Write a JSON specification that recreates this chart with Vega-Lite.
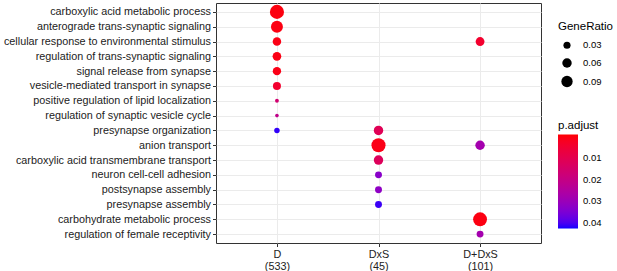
{
  "$schema": "https://vega.github.io/schema/vega-lite/v6.json",
  "width": 325,
  "height": 240,
  "autosize": {"type": "none"},
  "padding": {"left": 216, "top": 3, "right": 76, "bottom": 28},
  "background": "white",
  "config": {
    "font": "Liberation Sans",
    "view": {"stroke": "#333333", "strokeWidth": 1},
    "axis": {
      "gridColor": "#EBEBEB",
      "gridWidth": 1,
      "domain": false,
      "tickColor": "#333333",
      "tickSize": 3.5,
      "labelColor": "#222222",
      "labelFontSize": 10.8,
      "labelPadding": 2
    },
    "legend": {
      "titleFontWeight": "normal",
      "titleColor": "#000000",
      "titleFontSize": 11.5,
      "labelColor": "#000000",
      "labelFontSize": 9.5
    }
  },
  "data": {
    "values": [
      {"group": "D (533)", "term": "carboxylic acid metabolic process", "GeneRatio": 0.145, "padj": 0.0001},
      {"group": "D (533)", "term": "anterograde trans-synaptic signaling", "GeneRatio": 0.102, "padj": 0.0003},
      {"group": "D (533)", "term": "cellular response to environmental stimulus", "GeneRatio": 0.047, "padj": 0.0006},
      {"group": "D (533)", "term": "regulation of trans-synaptic signaling", "GeneRatio": 0.049, "padj": 0.0005},
      {"group": "D (533)", "term": "signal release from synapse", "GeneRatio": 0.045, "padj": 0.0007},
      {"group": "D (533)", "term": "vesicle-mediated transport in synapse", "GeneRatio": 0.041, "padj": 0.004},
      {"group": "D (533)", "term": "positive regulation of lipid localization", "GeneRatio": 0.002, "padj": 0.016},
      {"group": "D (533)", "term": "regulation of synaptic vesicle cycle", "GeneRatio": 0.001, "padj": 0.021},
      {"group": "D (533)", "term": "presynapse organization", "GeneRatio": 0.014, "padj": 0.0415},
      {"group": "DxS (45)", "term": "presynapse organization", "GeneRatio": 0.06, "padj": 0.011},
      {"group": "DxS (45)", "term": "anion transport", "GeneRatio": 0.145, "padj": 0.0008},
      {"group": "DxS (45)", "term": "carboxylic acid transmembrane transport", "GeneRatio": 0.06, "padj": 0.012},
      {"group": "DxS (45)", "term": "neuron cell-cell adhesion", "GeneRatio": 0.028, "padj": 0.033},
      {"group": "DxS (45)", "term": "postsynapse assembly", "GeneRatio": 0.028, "padj": 0.032},
      {"group": "DxS (45)", "term": "presynapse assembly", "GeneRatio": 0.028, "padj": 0.041},
      {"group": "D+DxS (101)", "term": "cellular response to environmental stimulus", "GeneRatio": 0.051, "padj": 0.004},
      {"group": "D+DxS (101)", "term": "anion transport", "GeneRatio": 0.06, "padj": 0.028},
      {"group": "D+DxS (101)", "term": "carbohydrate metabolic process", "GeneRatio": 0.14, "padj": 0.0003},
      {"group": "D+DxS (101)", "term": "regulation of female receptivity", "GeneRatio": 0.028, "padj": 0.028}
    ]
  },
  "mark": {"type": "circle", "opacity": 1},
  "encoding": {
    "x": {
      "field": "group",
      "type": "nominal",
      "scale": {"type": "point", "padding": 0.6, "domain": ["D (533)", "DxS (45)", "D+DxS (101)"]},
      "axis": {"title": null, "labelAngle": 0, "labelExpr": "split(datum.label, ' ')", "labelLineHeight": 11.5, "grid": true}
    },
    "y": {
      "field": "term",
      "type": "nominal",
      "scale": {
        "type": "point",
        "padding": 0.6,
        "domain": [
          "carboxylic acid metabolic process",
          "anterograde trans-synaptic signaling",
          "cellular response to environmental stimulus",
          "regulation of trans-synaptic signaling",
          "signal release from synapse",
          "vesicle-mediated transport in synapse",
          "positive regulation of lipid localization",
          "regulation of synaptic vesicle cycle",
          "presynapse organization",
          "anion transport",
          "carboxylic acid transmembrane transport",
          "neuron cell-cell adhesion",
          "postsynapse assembly",
          "presynapse assembly",
          "carbohydrate metabolic process",
          "regulation of female receptivity"
        ]
      },
      "axis": {"title": null, "grid": true, "labelLimit": 300}
    },
    "size": {
      "field": "GeneRatio",
      "type": "quantitative",
      "scale": {"domain": [0, 0.15], "range": [12, 205]},
      "legend": {
        "orient": "none",
        "legendX": 342,
        "legendY": 18,
        "values": [0.03, 0.06, 0.09],
        "title": "GeneRatio",
        "symbolType": "circle",
        "symbolFillColor": "#000000",
        "symbolStrokeWidth": 0,
        "symbolOffset": 3,
        "labelOffset": 10,
        "rowPadding": 7.5,
        "titlePadding": 8
      }
    },
    "color": {
      "field": "padj",
      "type": "quantitative",
      "scale": {"domain": [0.0426, -0.001], "range": ["#0000FF", "#FF0000"], "interpolate": "lab"},
      "legend": {
        "orient": "none",
        "legendX": 342,
        "legendY": 117,
        "direction": "vertical",
        "values": [0.01, 0.02, 0.03, 0.04],
        "title": "p.adjust",
        "gradientLength": 94,
        "gradientThickness": 20,
        "gradientStrokeWidth": 0,
        "labelOffset": 5,
        "titlePadding": 3
      }
    }
  }
}
